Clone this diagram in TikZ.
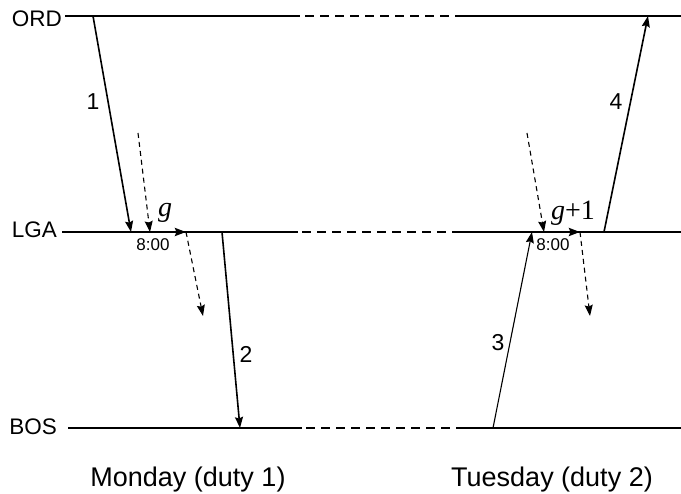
\documentclass[tikz,border=0pt]{standalone}
\usepackage{fontspec}
\setmainfont{Liberation Sans}
\newfontfamily\timesfont{Liberation Serif}
\usetikzlibrary{arrows.meta}

\providecommand{\tlLineWidth}{1.6pt}
\providecommand{\tlArrowWidth}{1.6pt}

\begin{document}
\begin{tikzpicture}[x=1pt, y=-1pt, line cap=butt,
  >={Stealth[length=11pt, width=8pt, inset=1.5pt]},
  stn/.style={anchor=base east, inner sep=0pt, font=\fontsize{22.5}{26}\selectfont},
  day/.style={anchor=base, inner sep=0pt, font=\fontsize{27}{31}\selectfont},
  leg/.style={inner sep=0pt, font=\fontsize{23}{27}\selectfont},
  clock/.style={inner sep=0pt, font=\fontsize{17}{20}\selectfont},
  dutylbl/.style={inner sep=0pt, font=\fontsize{28}{32}\timesfont},
  tline/.style={line width=\tlLineWidth},
  gap/.style={line width=\tlLineWidth, dash pattern=on 9pt off 6pt},
  flight/.style={->, line width=\tlArrowWidth},
  conn/.style={->, line width=1.1pt, dash pattern=on 5pt off 4pt},
  duty/.style={->, line width=2.4pt}]
\useasboundingbox (0,0) rectangle (681,494);
% Station names
\node[stn] (ORD) at (62,27) {ORD};
\node[stn] (LGA) at (57,238) {LGA};
\node[stn] (BOS) at (57,435) {BOS};
% Time lines, broken between the two days
\coordinate (ORD-a) at (300,16);  \coordinate (ORD-b) at (463,16);  \coordinate (ORD-e) at (681,16);
\coordinate (LGA-a) at (298,232); \coordinate (LGA-b) at (458,232); \coordinate (LGA-e) at (681,232);
\coordinate (BOS-a) at (302,428); \coordinate (BOS-b) at (461,428); \coordinate (BOS-e) at (681,428);
\draw[tline] (ORD.east |- ORD-a) ++(3,0) -- (ORD-a);
\draw[gap] (ORD-a) ++(5,0) -- (ORD-b);
\draw[tline] (ORD-b) -- (ORD-e);
\draw[tline] (LGA.east |- LGA-a) ++(5,0) -- (LGA-a);
\draw[gap] (LGA-a) ++(4,0) -- (LGA-b);
\draw[tline] (LGA-b) -- (LGA-e);
\draw[tline] (BOS.east |- BOS-a) ++(11,0) -- (BOS-a);
\draw[gap] (BOS-a) ++(4,0) -- (BOS-b);
\draw[tline] (BOS-b) -- (BOS-e);
% Flight legs
\coordinate (f1-dep) at (93,16);   \coordinate (f1-arr) at (131,232);
\coordinate (f2-dep) at (222,232); \coordinate (f2-arr) at (240,428);
\coordinate (f3-dep) at (493,428); \coordinate (f3-arr) at (532,232);
\coordinate (f4-dep) at (604,232); \coordinate (f4-arr) at (648,16);
\draw[flight] (f1-dep) -- (f1-arr);
\draw[flight] (f2-dep) -- (f2-arr);
\draw[flight, line width=1.1pt] (f3-dep) -- (f3-arr);
\draw[flight] (f4-dep) -- (f4-arr);
\node[leg] (n1) at (93,102) {1};
\node[leg] (n2) at (246,354) {2};
\node[leg] (n3) at (498,343) {3};
\node[leg] (n4) at (616,102) {4};
% Duty periods starting at 8:00
\coordinate (d1-in) at (138,133);  \coordinate (d1-s) at (150,232);
\coordinate (d1-e) at (186,232);   \coordinate (d1-out) at (203,316);
\coordinate (d2-in) at (527,133);  \coordinate (d2-s) at (544,232);
\coordinate (d2-e) at (580,232);   \coordinate (d2-out) at (590,316);
\draw[conn] (d1-in) -- (d1-s);
\draw[duty] (d1-s) -- (d1-e);
\draw[conn] (d1-e) -- (d1-out);
\draw[conn] (d2-in) -- (d2-s);
\draw[duty] (d2-s) -- (d2-e);
\draw[conn] (d2-e) -- (d2-out);
\node[dutylbl] (g1) at (165,213) {\itshape g};
\node[dutylbl] (g2) at (573,213) {{\itshape g}+1};
\node[clock] (t1) at (153,245) {8:00};
\node[clock] (t2) at (553,245) {8:00};
% Days
\node[day] (mon) at (188,487) {Monday (duty 1)};
\node[day] (tue) at (552,487) {Tuesday (duty 2)};
\end{tikzpicture}
\end{document}
